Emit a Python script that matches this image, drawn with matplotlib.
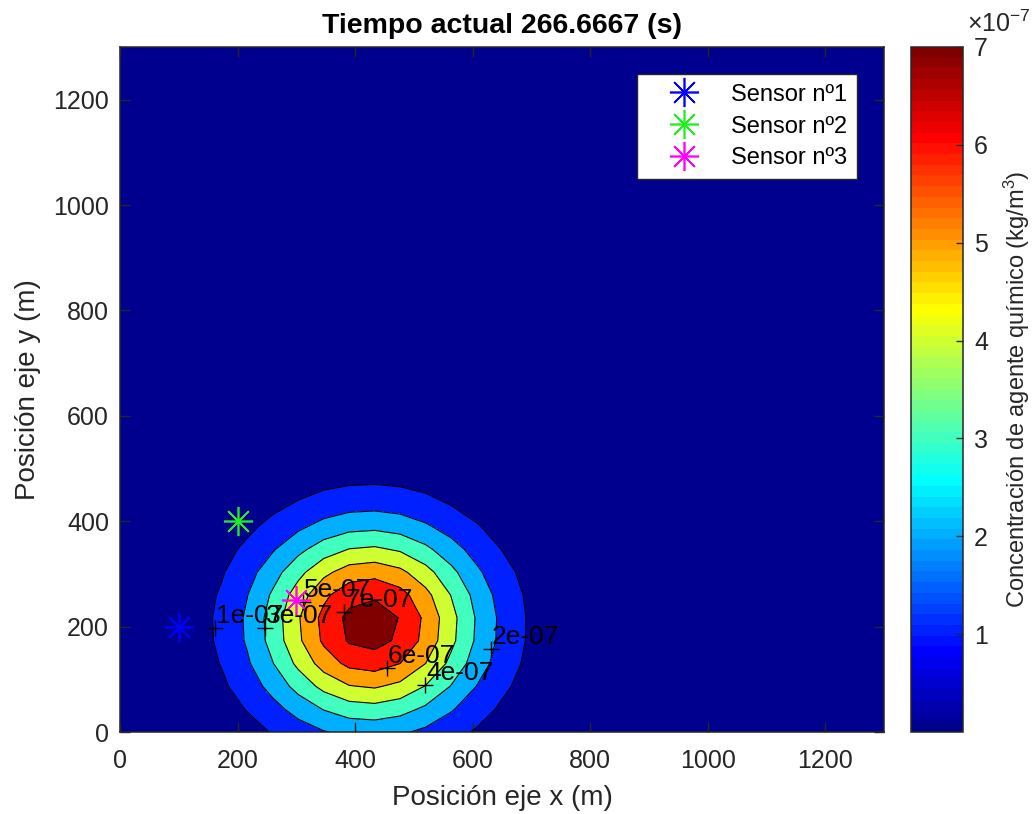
import numpy as np
import matplotlib
matplotlib.use('Agg')
import matplotlib.pyplot as plt
from matplotlib.colors import ListedColormap, Normalize
from matplotlib.cm import ScalarMappable

# puff parameters (gaussian cloud at t = 266.6667 s)
t_actual = 266.6667
peak = 7.55e-7          # kg/m3 at the centre
x_c, y_c = 425., 203.   # centre of the cloud (m)
sigma = 132.            # spread (m)
x_grid = np.linspace(0, 1300, 31)
y_grid = np.linspace(0, 1300, 31)

levels = [0e-7, 1e-7, 2e-7, 3e-7, 4e-7, 5e-7, 6e-7, 7e-7, 8e-7]
line_levels = [1e-7, 2e-7, 3e-7, 4e-7, 5e-7, 6e-7, 7e-7]

# where clabel put its '+' marks
lab_val = [1e-7, 2e-7, 3e-7, 4e-7, 5e-7, 6e-7, 7e-7]
lab_x = [162, 631, 247, 519, 311, 454, 382]
lab_y = [197, 157, 197, 89, 247, 121, 228]

sensor_x = [100, 200, 300]
sensor_y = [200, 400, 250]
sensor_names = ['Sensor nº1', 'Sensor nº2', 'Sensor nº3']
sensor_cols = ['#0000ff', '#22ee22', '#ff00ff']

cb_ticks = [1e-7, 2e-7, 3e-7, 4e-7, 5e-7, 6e-7, 7e-7]
cb_labels = ['1', '2', '3', '4', '5', '6', '7']


def matlab_jet(m=64):
    n = int(np.ceil(m / 4))
    u = np.r_[np.arange(1, n + 1) / n, np.ones(n - 1), np.arange(n, 0, -1) / n]
    g = int(np.ceil(n / 2)) - (m % 4 == 1) + np.arange(1, len(u) + 1)
    r = g + n
    b = g - n
    g = g[g <= m]
    r = r[r <= m]
    b = b[b >= 1]
    J = np.zeros((m, 3))
    J[r - 1, 0] = u[:len(r)]
    J[g - 1, 1] = u[:len(g)]
    J[b - 1, 2] = u[len(u) - len(b):]
    return J


plt.rcParams['font.family'] = ['Liberation Sans', 'DejaVu Sans']
plt.rcParams['mathtext.fontset'] = 'custom'
plt.rcParams['mathtext.rm'] = 'Liberation Sans'
plt.rcParams['mathtext.it'] = 'Liberation Sans:italic'
plt.rcParams['mathtext.bf'] = 'Liberation Sans:bold'

jet = matlab_jet(64)
cmin, cmax = 0., 7e-7
# matlab colours each band with the value of its lower level
fill_cols = [jet[min(63, int((lv - cmin) / (cmax - cmin) * 64))] for lv in levels[:-1]]

X, Y = np.meshgrid(x_grid, y_grid)
C = peak * np.exp(-((X - x_c)**2 + (Y - y_c)**2) / (2 * sigma**2))

dark = (0.15, 0.15, 0.15)
fig = plt.figure(figsize=(10.35, 8.14), dpi=100)
ax = fig.add_axes([120/1035, 82/814, 764/1035, 685/814])
cax = fig.add_axes([911/1035, 82/814, 52/1035, 685/814])

ax.contourf(X, Y, C, levels=levels, colors=fill_cols)
ax.contour(X, Y, C, levels=line_levels, colors='k', linewidths=0.8)

for v, lx, ly in zip(lab_val, lab_x, lab_y):
    ax.plot(lx, ly, '+', color='k', markersize=11.5, markeredgewidth=1.0)
    ax.text(lx + 2, ly, '%.0e' % v, fontsize=19, ha='left', va='bottom', color='k')

for sx, sy, nm, col in zip(sensor_x, sensor_y, sensor_names, sensor_cols):
    ax.plot(sx, sy, linestyle='none', marker=(8, 2, 0), markersize=21,
            markeredgewidth=1.2, color=col, label=nm)

ax.set_xlim(0, 1300)
ax.set_ylim(0, 1300)
ax.set_xticks(np.arange(0, 1201, 200))
ax.set_yticks(np.arange(0, 1201, 200))
ax.tick_params(direction='in', top=True, right=True, length=7, width=1,
               labelsize=18, colors=dark, pad=8)
ax.tick_params(axis='x', pad=12)
for sp in ax.spines.values():
    sp.set_color(dark)
    sp.set_linewidth(1.1)
ax.set_xlabel('Posición eje x (m)', fontsize=20, color=dark, labelpad=9)
ax.set_ylabel('Posición eje y (m)', fontsize=20, color=dark, labelpad=9)
ax.set_title('Tiempo actual %.4f (s)' % t_actual, fontsize=20.5, fontweight='bold', pad=10)

leg = ax.legend(loc='upper right', fontsize=17, frameon=True, fancybox=False,
                framealpha=1, edgecolor=dark, borderaxespad=1.15,
                handlelength=3.2, handletextpad=0.4, borderpad=0.4,
                labelspacing=0.42)
leg.get_frame().set_linewidth(1.0)

sm = ScalarMappable(norm=Normalize(cmin, cmax), cmap=ListedColormap(jet))
cb = fig.colorbar(sm, cax=cax)
cb.set_ticks(cb_ticks)
cb.set_ticklabels(cb_labels)
cax.tick_params(direction='in', length=5, width=1, labelsize=18, colors=dark, pad=8)
cb.outline.set_edgecolor(dark)
cb.outline.set_linewidth(1.1)
cb.set_label('Concentración de agente químico (kg/m$^3$)', fontsize=17, color=dark, labelpad=10)
fig.text(967/1035, 1 - 32/814, r'$\times$10$^{-7}$', fontsize=18, color=dark,
         ha='left', va='baseline')

fig.savefig('out.png', dpi=100)
